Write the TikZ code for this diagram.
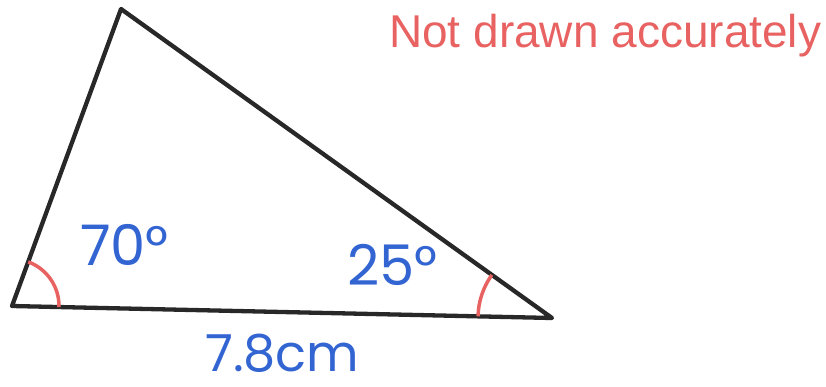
\documentclass[tikz,border=0pt]{standalone}
\usepackage{fontspec}
\setmainfont{Liberation Sans}
\newfontfamily\labfont{Poppins}
\definecolor{edgegray}{RGB}{40,40,40}
\definecolor{notered}{RGB}{232,98,98}
\definecolor{labblue}{RGB}{50,100,210}
\begin{document}
\begin{tikzpicture}[x=1pt,y=1pt,
  edge/.style={draw=edgegray,line width=4.3pt,line join=round,line cap=round},
  anglearc/.style={draw=notered,line width=3.5pt},
  lab/.style={text=labblue,font=\labfont\fontsize{56}{58}\selectfont,inner sep=0pt,anchor=base west},
  note/.style={text=notered,font=\fontsize{46}{50}\selectfont,inner sep=0pt,anchor=base west}]
\useasboundingbox (0,0) rectangle (826,386);
\coordinate (T) at (121,377);
\coordinate (L) at (12,80);
\coordinate (R) at (552,68);
\draw[edge] (T) -- (L) -- (R) -- cycle;
\draw[anglearc] ([shift={(-1.3:47)}]L) arc[start angle=-1.3,end angle=69.8,radius=47];
\draw[anglearc] ([shift={(144.4:74)}]R) arc[start angle=144.4,end angle=178.7,radius=74];
\node[note] (nd) at (389,338) {Not drawn accurately};
\node[lab] (a70) at (80,121) {70°};
\node[lab] (a25) at (347,101) {25°};
\node[lab,font=\labfont\fontsize{51}{54}\selectfont] (len) at (205,15) {7.8cm};
\end{tikzpicture}
\end{document}
